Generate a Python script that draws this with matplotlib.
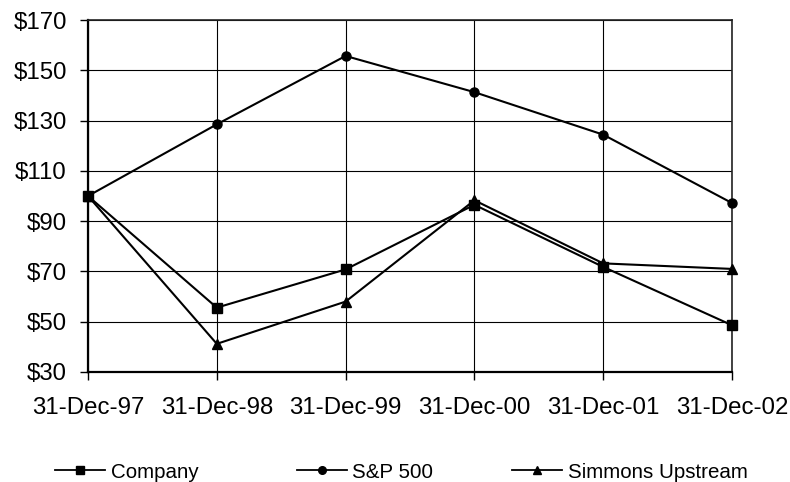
import matplotlib
matplotlib.use("Agg")
import matplotlib.pyplot as plt
from matplotlib.lines import Line2D

plt.rcParams['font.family'] = ['Liberation Sans', 'DejaVu Sans']

# Cumulative value of a $100 investment
dates = ["31-Dec-97", "31-Dec-98", "31-Dec-99", "31-Dec-00", "31-Dec-01", "31-Dec-02"]
company = [100, 55.6, 70.8, 96.5, 71.8, 48.6]
sp500 = [100, 128.5, 155.7, 141.3, 124.4, 97.2]
simmons = [100, 41.2, 58.0, 98.3, 73.2, 71.0]

series_names = ["Company", "S&P 500", "Simmons Upstream"]
y_ticks = [30, 50, 70, 90, 110, 130, 150, 170]

W, H = 790, 482
fig = plt.figure(figsize=(W / 100, H / 100), dpi=100)
ax = fig.add_axes([88 / W, 1 - 372 / H, (732 - 88) / W, (372 - 20) / H])

x = list(range(len(dates)))
styles = [("s", company), ("o", sp500), ("^", simmons)]
for (marker, vals), name in zip(styles, series_names):
    ax.plot(x, vals, color="black", lw=1.5, marker=marker, ms=6.5,
            mfc="black", mec="black", clip_on=False, zorder=3, label=name)

ax.set_xlim(0, len(dates) - 1)
ax.set_ylim(y_ticks[0], y_ticks[-1])
ax.set_xticks(x)
ax.set_xticklabels(dates)
ax.set_yticks(y_ticks)
ax.set_yticklabels([f"${v}" for v in y_ticks])

ax.grid(True, color="black", lw=0.8)
ax.set_axisbelow(True)

ax.tick_params(axis="both", direction="out", length=5.8, width=1.0,
               labelsize=17.3, colors="black")
ax.tick_params(axis="x", pad=12.5)
ax.tick_params(axis="y", pad=9.5)

for side in ("left", "bottom"):
    ax.spines[side].set_linewidth(1.6)
for side in ("top", "right"):
    ax.spines[side].set_linewidth(1.2)
    ax.spines[side].set_color("#222222")

# Legend entries along the bottom, one per series
legend_x = [55, 297, 512]
for (marker, _), name, lx in zip(styles, series_names, legend_x):
    h = Line2D([], [], color="black", lw=1.3, marker=marker, ms=5.5,
               mfc="black", mec="black")
    fig.legend([h], [name], loc="center left",
               bbox_to_anchor=(lx / W, 1 - 472 / H),
               frameon=False, fontsize=14.8, borderpad=0, borderaxespad=0,
               handlelength=2.45, handletextpad=0.25)

fig.savefig("out.png", dpi=100)
